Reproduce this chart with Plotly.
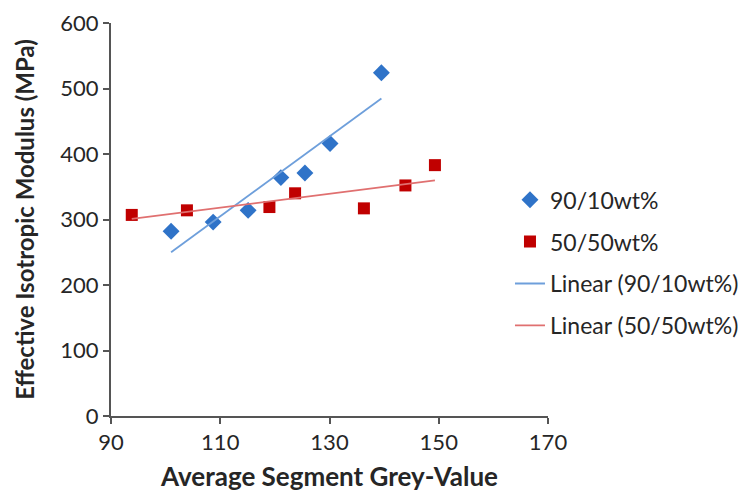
import numpy as np
import plotly.graph_objects as go

# Data
x_9010 = [101.0, 108.7, 115.1, 121.1, 125.5, 130.1, 139.5]
y_9010 = [282, 296, 314, 364, 371, 416, 524]
x_5050 = [93.8, 103.9, 119.0, 123.7, 136.3, 143.9, 149.3]
y_5050 = [307, 314, 319, 340, 317, 352, 383]
x_ticks = [90, 110, 130, 150, 170]
y_ticks = [0, 100, 200, 300, 400, 500, 600]

FONT = "Lato"
TXT = "#262626"

def fit(xs, ys):
    m, c = np.polyfit(xs, ys, 1)
    xe = [min(xs), max(xs)]
    return xe, [m * v + c for v in xe]

fx1, fy1 = fit(x_9010, y_9010)
fx2, fy2 = fit(x_5050, y_5050)

fig = go.Figure()
fig.add_trace(go.Scatter(x=x_9010, y=y_9010, mode="markers", name="90/10wt%",
                         legendgroup="a",
                         marker=dict(symbol="diamond", size=13, color="#2F73C8")))
fig.add_trace(go.Scatter(x=x_5050, y=y_5050, mode="markers", name="50/50wt%",
                         legendgroup="b",
                         marker=dict(symbol="square", size=12, color="#C00000")))
fig.add_trace(go.Scatter(x=fx1, y=fy1, mode="lines", name="Linear (90/10wt%)",
                         legendgroup="c",
                         line=dict(color="#6E9FDB", width=1.8)))
fig.add_trace(go.Scatter(x=fx2, y=fy2, mode="lines", name="Linear (50/50wt%)",
                         legendgroup="d",
                         line=dict(color="#E07070", width=1.8)))

axis_common = dict(showline=True, linecolor="#555555", linewidth=2,
                   ticks="outside", ticklen=6, tickwidth=1.5, tickcolor="#555555",
                   showgrid=False, zeroline=False, automargin=False,
                   ticklabeloverflow="allow",
                   tickfont=dict(family=FONT, size=22, color=TXT))

fig.update_layout(
    width=750, height=494,
    margin=dict(l=103, r=210, t=15, b=86),
    paper_bgcolor="white", plot_bgcolor="white",
    xaxis=dict(range=[90, 170], tickvals=x_ticks, **axis_common,
               title=dict(text="<b>Average Segment Grey-Value</b>",
                          font=dict(family=FONT, size=26, color=TXT),
                          standoff=13)),
    yaxis=dict(range=[0, 600], tickvals=y_ticks, **axis_common,
               title=dict(text="<b>Effective Isotropic Modulus (MPa)</b>",
                          font=dict(family=FONT, size=24, color=TXT),
                          standoff=19)),
    legend=dict(x=0.913, y=0.39, xanchor="left", yanchor="middle",
                font=dict(family=FONT, size=23, color=TXT),
                tracegroupgap=9, bgcolor="rgba(0,0,0,0)"),
    showlegend=True,
)

fig.write_html("out.html")
